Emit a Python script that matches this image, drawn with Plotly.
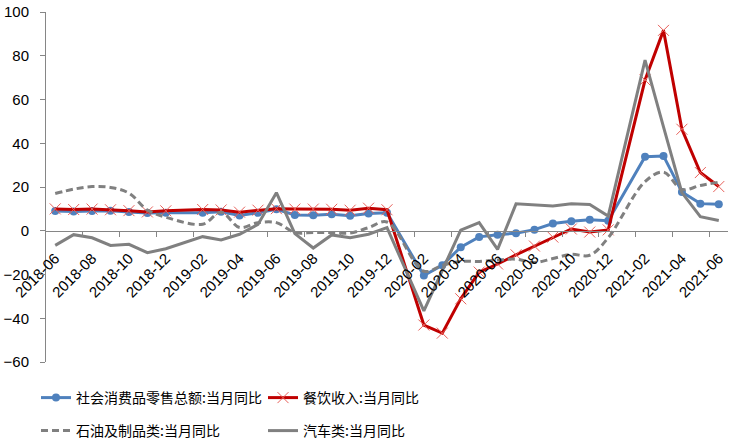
import plotly.graph_objects as go

months = [
    '2018-06', '2018-07', '2018-08', '2018-09', '2018-10', '2018-11', '2018-12',
    '2019-01', '2019-02', '2019-03', '2019-04', '2019-05', '2019-06', '2019-07',
    '2019-08', '2019-09', '2019-10', '2019-11', '2019-12', '2020-01', '2020-02',
    '2020-03', '2020-04', '2020-05', '2020-06', '2020-07', '2020-08', '2020-09',
    '2020-10', '2020-11', '2020-12', '2021-01', '2021-02', '2021-03', '2021-04',
    '2021-05', '2021-06',
]

# 1月数据缺失(1-2月合并公布)
retail_total = [
    9.0, 8.8, 9.0, 9.2, 8.6, 8.1, 8.2,
    None, 8.2, 8.7, 7.0, 8.2, 9.8, 7.2,
    7.1, 7.5, 6.9, 7.9, 8.2, None, -20.5,
    -15.8, -7.5, -2.8, -1.8, -1.1, 0.5, 3.3,
    4.3, 5.0, 4.6, None, 33.8, 34.2, 17.7,
    12.4, 12.1,
]
catering = [
    10.0, 9.7, 9.9, 9.6, 9.2, 8.6, 9.1,
    None, 9.7, 9.5, 8.5, 9.4, 10.1, 9.9,
    9.9, 9.8, 9.4, 10.3, 9.6, None, -43.1,
    -46.8, -31.1, -18.9, -15.2, -11.0, -7.0, -2.9,
    0.8, -0.6, 0.4, None, 68.9, 91.6, 46.4,
    26.6, 20.2,
]
petroleum = [
    17.0, 19.0, 20.2, 19.8, 17.2, 9.5, 6.2,
    None, 3.0, 8.5, 1.5, 3.7, 3.7, -0.8,
    -0.8, -0.8, -1.0, 1.4, 4.0, None, -18.5,
    -15.8, -14.0, -14.0, -13.4, -13.0, -14.5, -12.7,
    -10.8, -11.2, -3.2, None, 22.5, 26.8, 18.9,
    20.7, 22.2,
]
autos = [
    -6.7, -1.8, -3.2, -6.7, -6.2, -10.0, -8.2,
    None, -2.7, -4.2, -1.6, 2.9, 17.4, -1.3,
    -7.9, -1.9, -3.2, -1.6, 1.4, None, -36.6,
    -18.0, 0.3, 3.7, -8.5, 12.3, 11.7, 11.3,
    12.3, 12.0, 6.7, None, 78.0, 47.5, 17.4,
    6.4, 4.7,
]

x_idx = list(range(len(months)))
tick_idx = x_idx[::2]
tick_text = months[::2]

cn_font = 'Noto Sans CJK SC'
num_font = 'Liberation Sans'

fig = go.Figure()

fig.add_trace(go.Scatter(
    x=x_idx, y=retail_total, name='社会消费品零售总额:当月同比',
    mode='lines+markers', connectgaps=True,
    line=dict(color='#4F81BD', width=3),
    marker=dict(symbol='circle', size=8, color='#4F81BD'),
    legend='legend',
))
fig.add_trace(go.Scatter(
    x=x_idx, y=catering, name='餐饮收入:当月同比',
    mode='lines+markers', connectgaps=True,
    line=dict(color='#C00000', width=3),
    marker=dict(symbol='x-thin', size=11, line=dict(color='#E8605A', width=1)),
    legend='legend2',
))
fig.add_trace(go.Scatter(
    x=x_idx, y=petroleum, name='石油及制品类:当月同比',
    mode='lines', connectgaps=True,
    line=dict(color='#808080', width=3, dash='7px,4px', shape='spline'),
    legend='legend3',
))
fig.add_trace(go.Scatter(
    x=x_idx, y=autos, name='汽车类:当月同比',
    mode='lines', connectgaps=True,
    line=dict(color='#808080', width=3),
    legend='legend4',
))

# 右边距为0(避免图例自动撑开边距), 用domain留出右侧空白
plot_w = 735 - 46
legend_common = dict(
    orientation='h', xref='paper', yref='paper',
    xanchor='left', yanchor='middle', itemwidth=30,
    font=dict(family=cn_font, size=14, color='black'),
    bgcolor='rgba(0,0,0,0)',
)
col1_x = -10 / plot_w
col2_x = (263 - 46) / plot_w
row1_y = (363 - 398) / 351
row2_y = (363 - 432) / 351

fig.update_layout(
    width=735, height=447,
    margin=dict(l=46, r=0, t=12, b=84),
    plot_bgcolor='white', paper_bgcolor='white',
    font=dict(family=num_font, size=15, color='black'),
    showlegend=True,
    legend=dict(legend_common, x=col1_x, y=row1_y),
    legend2=dict(legend_common, x=col2_x, y=row1_y),
    legend3=dict(legend_common, x=col1_x, y=row2_y),
    legend4=dict(legend_common, x=col2_x, y=row2_y),
    xaxis=dict(
        domain=[0, 682 / plot_w],
        anchor='free', position=0.375,
        range=[-0.5, 36.5],
        tickmode='array', tickvals=tick_idx, ticktext=tick_text,
        tickangle=-45, ticks='',
        ticklabelstandoff=12,
        tickfont=dict(family=num_font, size=15, color='black'),
        showline=True, linecolor='#868686', linewidth=1,
        showgrid=False, zeroline=False, automargin=False,
        minor=dict(
            tickmode='array',
            tickvals=[i - 0.5 for i in tick_idx[1:]],
            ticks='outside', ticklen=5, tickcolor='#868686', showgrid=False,
        ),
    ),
    yaxis=dict(
        range=[-60, 100], dtick=20,
        showline=True, linecolor='#868686', linewidth=1,
        ticks='outside', ticklen=5, tickcolor='#868686',
        tickfont=dict(family=num_font, size=15, color='black'),
        showgrid=False, zeroline=False, automargin=False,
        ticklabelstandoff=8,
    ),
)

fig.write_html(
    'out.html',
    config={'displayModeBar': False},
    post_script="document.body.style.margin='0';",
)
